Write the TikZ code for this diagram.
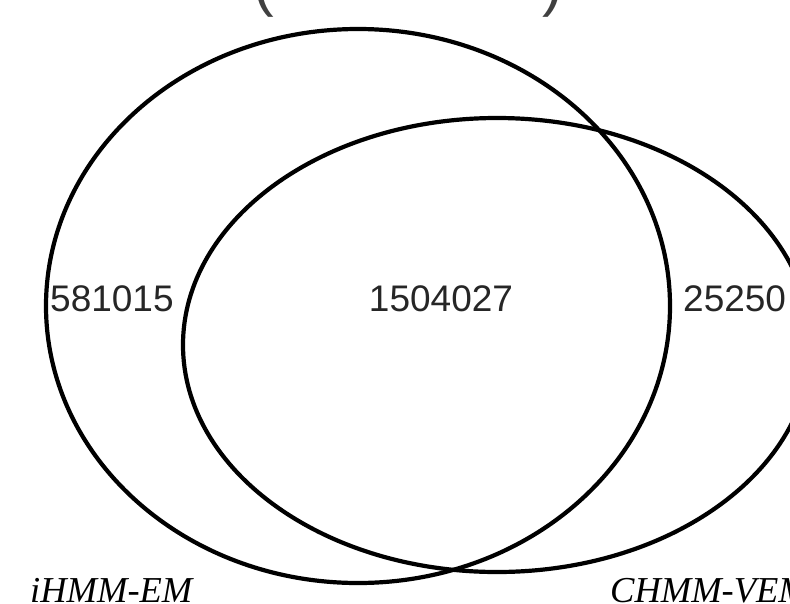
\documentclass[tikz,border=0pt]{standalone}
\usepackage{fontspec}
\setmainfont{Liberation Serif}
\newfontfamily\numfont{Liberation Sans}
\begin{document}
\begin{tikzpicture}[x=1pt,y=-1pt,
  vring/.style={draw=black,line width=4.2pt},
  count/.style={inner sep=0pt,font=\numfont\fontsize{37}{37}\selectfont,text=black!85},
  setlabel/.style={inner sep=0pt,anchor=base west,font=\itshape\fontsize{36.5}{36.5}\selectfont},
  paren/.style={inner sep=0pt,anchor=base,font=\numfont\fontsize{62}{62}\selectfont,text=black!75}]
\useasboundingbox (0,0) rectangle (790,603);
\clip (0,0) rectangle (790,603);
% cut-off title parentheses
\node[paren] (lp) at (264,4) {(};
\node[paren] (rp) at (553,4) {)};
% sets
\draw[vring] (358,306) ellipse [x radius=312, y radius=277];
\draw[vring] (497,345) ellipse [x radius=314, y radius=227];
% counts
\node[count,anchor=west] (a) at (50,299) {581015};
\node[count] (ab) at (441,299) {1504027};
\node[count,anchor=west] (b) at (683,299) {25250};
% labels
\node[setlabel] (la) at (30,602) {iHMM-EM};
\node[setlabel] (lb) at (610,602) {CHMM-VEM};
\end{tikzpicture}
\end{document}
